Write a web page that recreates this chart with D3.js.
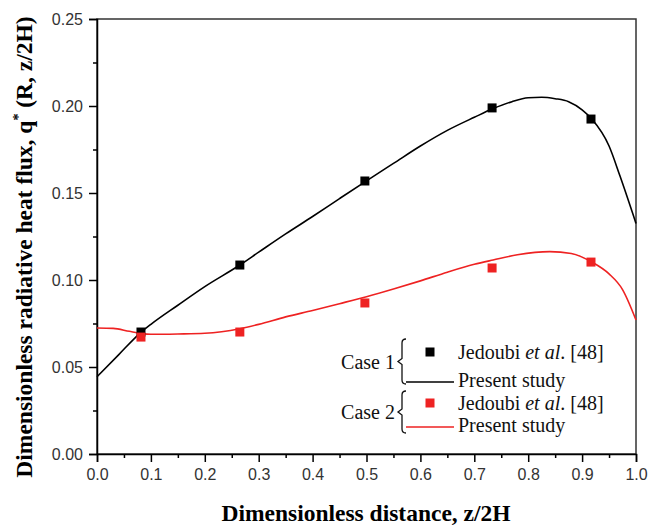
<!DOCTYPE html>
<html>
<head>
<meta charset="utf-8">
<script src="https://cdn.jsdelivr.net/npm/d3@7"></script>
<style>
  body { margin: 0; background: #fff; }
  .tick text { font-family: "Liberation Sans", Arial, sans-serif; font-size: 16px; fill: #333; }
  .axisTitle { font-family: "Liberation Serif", "Times New Roman", serif; font-weight: bold; font-size: 23.5px; fill: #000; }
  .legendText { font-family: "Liberation Serif", "Times New Roman", serif; font-size: 20px; fill: #111; }
</style>
</head>
<body>
<div class="chart"></div>
<script>
var svgWidth = 648;
var svgHeight = 526;

var margin = { top: 19, right: 12, bottom: 72, left: 97 };
var width = 636 - margin.left;
var height = 454 - margin.top;

// Jedoubi et al. [48] reference points
var refX = [0.0816, 0.265, 0.497, 0.733, 0.9165];
var case1Ref = [0.0701, 0.1086, 0.1569, 0.1989, 0.1925];
var case2Ref = [0.0672, 0.0701, 0.0868, 0.1069, 0.1103];

// Present study curves
var case1X = [0, 0.04, 0.08, 0.1, 0.15, 0.2, 0.265, 0.3, 0.35, 0.4, 0.45, 0.5, 0.55, 0.6, 0.65, 0.7, 0.735, 0.77, 0.8, 0.825, 0.85, 0.875, 0.9, 0.918, 0.95, 0.97, 1.0];
var case1Y = [0.0444, 0.057, 0.0695, 0.0745, 0.0855, 0.0962, 0.1086, 0.116, 0.1265, 0.1365, 0.1468, 0.157, 0.167, 0.177, 0.186, 0.1935, 0.1985, 0.2025, 0.2047, 0.205, 0.2042, 0.2025, 0.1978, 0.1925, 0.177, 0.160, 0.1325];
var case2X = [0, 0.03, 0.06, 0.08, 0.1, 0.15, 0.2, 0.265, 0.3, 0.35, 0.4, 0.45, 0.5, 0.55, 0.6, 0.65, 0.7, 0.735, 0.78, 0.84, 0.88, 0.918, 0.95, 0.975, 1.0];
var case2Y = [0.0724, 0.0722, 0.0705, 0.0694, 0.0688, 0.0690, 0.0694, 0.072, 0.0745, 0.0788, 0.0825, 0.0864, 0.0904, 0.0948, 0.0995, 0.1045, 0.109, 0.1115, 0.1145, 0.1163, 0.1152, 0.1103, 0.1035, 0.0945, 0.077];

var xTicks = [0, 0.1, 0.2, 0.3, 0.4, 0.5, 0.6, 0.7, 0.8, 0.9, 1.0];
var xMinor = [0.05, 0.15, 0.25, 0.35, 0.45, 0.55, 0.65, 0.75, 0.85, 0.95];
var yTicks = [0, 0.05, 0.10, 0.15, 0.20, 0.25];
var yMinor = [0.025, 0.075, 0.125, 0.175, 0.225];

var black = "#000";
var red = "#ee2222";
var serif = '"Liberation Serif", "Times New Roman", serif';

var svg = d3.select(".chart")
  .append("svg")
  .attr("width", svgWidth)
  .attr("height", svgHeight);

var chartGroup = svg.append("g")
  .attr("transform", `translate(${margin.left}, ${margin.top})`);

var xScale = d3.scaleLinear().domain([0, 1]).range([0, width]);
var yScale = d3.scaleLinear().domain([0, 0.25]).range([height, 0]);

// frame
chartGroup.append("rect")
  .attr("width", width)
  .attr("height", height)
  .attr("fill", "none")
  .attr("stroke", "#333")
  .attr("stroke-width", 1.5);

// minor ticks
chartGroup.append("g")
  .attr("transform", `translate(0, ${height})`)
  .call(d3.axisBottom(xScale).tickValues(xMinor).tickSize(4).tickFormat(""))
  .call(g => g.select(".domain").remove())
  .selectAll("line").attr("stroke-width", 1.5);
chartGroup.append("g")
  .call(d3.axisLeft(yScale).tickValues(yMinor).tickSize(4).tickFormat(""))
  .call(g => g.select(".domain").remove())
  .selectAll("line").attr("stroke-width", 1.5);

// major axes
var xAxis = chartGroup.append("g")
  .attr("transform", `translate(0, ${height})`)
  .call(d3.axisBottom(xScale).tickValues(xTicks).tickSize(8).tickPadding(7).tickFormat(d3.format(".1f")));
var yAxis = chartGroup.append("g")
  .call(d3.axisLeft(yScale).tickValues(yTicks).tickSize(8).tickPadding(6).tickFormat(d3.format(".2f")));
[xAxis, yAxis].forEach(function (ax) {
  ax.select(".domain").attr("stroke-width", 1.5).attr("stroke", "#000");
  ax.selectAll(".tick line").attr("stroke-width", 1.5);
});

// curves
var line = d3.line()
  .x(d => xScale(d[0]))
  .y(d => yScale(d[1]))
  .curve(d3.curveMonotoneX);

chartGroup.append("path")
  .datum(case2X.map((x, i) => [x, case2Y[i]]))
  .attr("d", line)
  .attr("fill", "none")
  .attr("stroke", red)
  .attr("stroke-width", 1.6);

chartGroup.append("path")
  .datum(case1X.map((x, i) => [x, case1Y[i]]))
  .attr("d", line)
  .attr("fill", "none")
  .attr("stroke", black)
  .attr("stroke-width", 1.6);

var sq = 9;
chartGroup.selectAll(".sq1")
  .data(refX)
  .enter()
  .append("rect")
  .attr("x", d => xScale(d) - sq / 2)
  .attr("y", (d, i) => yScale(case1Ref[i]) - sq / 2)
  .attr("width", sq)
  .attr("height", sq)
  .attr("fill", black);

chartGroup.selectAll(".sq2")
  .data(refX)
  .enter()
  .append("rect")
  .attr("x", d => xScale(d) - sq / 2)
  .attr("y", (d, i) => yScale(case2Ref[i]) - sq / 2)
  .attr("width", sq)
  .attr("height", sq)
  .attr("fill", red);

// axis titles
svg.append("text")
  .attr("class", "axisTitle")
  .attr("x", 366)
  .attr("y", 521)
  .attr("text-anchor", "middle")
  .text("Dimensionless distance, z/2H");

var yt = svg.append("text")
  .attr("class", "axisTitle")
  .attr("transform", "translate(32, 247) rotate(-90)")
  .attr("text-anchor", "middle");
yt.append("tspan").text("Dimensionless radiative heat flux, q");
yt.append("tspan").attr("dy", -9).attr("font-size", 14).text("*");
yt.append("tspan").attr("dy", 9).text(" (R, z/2H)");

// legend
function brace(x, top, bottom) {
  var mid = (top + bottom) / 2;
  return `M${x + 5},${top} Q${x + 1},${top} ${x + 1},${top + 4} L${x + 1},${mid - 3} L${x - 3},${mid} L${x + 1},${mid + 3} L${x + 1},${bottom - 4} Q${x + 1},${bottom} ${x + 5},${bottom}`;
}

var legendRows = [
  { label: "Case 1", color: black, top: 339, bottom: 384, markY: 352, lineY: 382 },
  { label: "Case 2", color: red, top: 391, bottom: 433, markY: 403, lineY: 427 }
];

legendRows.forEach(function (r) {
  var mid = (r.top + r.bottom) / 2;
  svg.append("text").attr("class", "legendText").attr("font-family", serif)
    .attr("x", 395).attr("y", mid + 7).attr("text-anchor", "end").text(r.label);
  svg.append("path").attr("d", brace(401, r.top, r.bottom))
    .attr("fill", "none").attr("stroke", "#111").attr("stroke-width", 1.3);
  svg.append("rect").attr("x", 430 - 4.5).attr("y", r.markY - 4.5)
    .attr("width", 9).attr("height", 9).attr("fill", r.color);
  svg.append("line").attr("x1", 406).attr("x2", 454)
    .attr("y1", r.lineY).attr("y2", r.lineY)
    .attr("stroke", r.color).attr("stroke-width", 1.6);
  var t = svg.append("text").attr("class", "legendText").attr("font-family", serif)
    .attr("x", 458).attr("y", r.markY + 7);
  t.append("tspan").text("Jedoubi ");
  t.append("tspan").attr("font-style", "italic").text("et al");
  t.append("tspan").text(". [48]");
  svg.append("text").attr("class", "legendText").attr("font-family", serif)
    .attr("x", 458).attr("y", r.lineY + 5).text("Present study");
});
</script>
</body>
</html>
